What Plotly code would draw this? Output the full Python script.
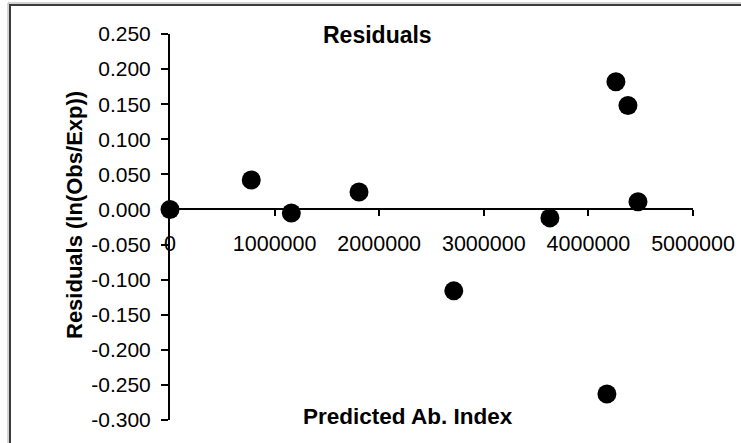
import plotly.graph_objects as go

# Data
predicted_index = [0, 777000, 1160000, 1807000, 2713000, 3632000, 4177000, 4263000, 4378000, 4474000]
residuals = [0.000, 0.042, -0.005, 0.025, -0.116, -0.012, -0.263, 0.182, 0.148, 0.011]

y_ticks = [0.25, 0.2, 0.15, 0.1, 0.05, 0.0, -0.05, -0.1, -0.15, -0.2, -0.25, -0.3]
x_ticks = [0, 1000000, 2000000, 3000000, 4000000, 5000000]

title_text = "Residuals"
x_title = "Predicted Ab. Index"
y_title = "Residuals (ln(Obs/Exp))"

W, H = 741, 443
L, R, T, B = 170, 48, 34, 23
pw, ph = W - L - R, H - T - B
y_min, y_max = -0.3, 0.25

def px_x(p):
    return (p - L) / pw

def px_y(p):
    return (H - B - p) / ph

FONT = "Arial, Liberation Sans, sans-serif"

fig = go.Figure()
fig.add_trace(go.Scatter(
    x=predicted_index, y=residuals, mode="markers",
    marker=dict(color="black", size=19, line=dict(width=0)),
    cliponaxis=False, showlegend=False, hoverinfo="x+y",
))

fig.update_layout(
    width=W, height=H,
    margin=dict(l=L, r=R, t=T, b=B, pad=0, autoexpand=False),
    paper_bgcolor="white", plot_bgcolor="white",
    font=dict(family=FONT, color="black", size=21),
    xaxis=dict(
        range=[0, 5000000], tickvals=x_ticks, ticktext=[str(v) for v in x_ticks],
        showgrid=False, zeroline=False, showline=True, linecolor="black", linewidth=2,
        ticks="outside", ticklen=6, tickwidth=1.5, tickcolor="black",
        anchor="free", position=(0 - y_min) / (y_max - y_min),
        ticklabelstandoff=9, automargin=False,
        tickfont=dict(family=FONT, size=21.5, color="black"),
    ),
    yaxis=dict(
        range=[y_min, y_max], tickvals=y_ticks, ticktext=[f"{v:.3f}" for v in y_ticks],
        showgrid=False, zeroline=False, showline=True, linecolor="black", linewidth=2,
        ticks="outside", ticklen=7, tickwidth=1.5, tickcolor="black",
        ticklabelstandoff=6, automargin=False,
        tickfont=dict(family=FONT, size=21, color="black"),
    ),
    annotations=[
        dict(text=f"<b>{title_text}</b>", x=px_x(377), y=px_y(35), xref="paper", yref="paper",
             showarrow=False, xanchor="center", yanchor="middle", font=dict(family=FONT, size=23)),
        dict(text=f"<b>{x_title}</b>", x=px_x(408), y=px_y(416), xref="paper", yref="paper",
             showarrow=False, xanchor="center", yanchor="middle", font=dict(family=FONT, size=22.5)),
        dict(text=f"<b>{y_title}</b>", x=px_x(74), y=px_y(215), xref="paper", yref="paper",
             showarrow=False, xanchor="center", yanchor="middle", textangle=-90,
             font=dict(family=FONT, size=22)),
    ],
    shapes=[
        dict(type="rect", xref="paper", yref="paper",
             x0=px_x(8), x1=px_x(760), y0=px_y(460), y1=px_y(3),
             line=dict(color="#a8a8a8", width=1)),
        dict(type="rect", xref="paper", yref="paper",
             x0=px_x(10), x1=px_x(760), y0=px_y(460), y1=px_y(5),
             line=dict(color="#3c3c3c", width=2)),
    ],
)

fig.write_html("out.html", config={"displayModeBar": False},
               post_script="document.body.style.margin='0';")
